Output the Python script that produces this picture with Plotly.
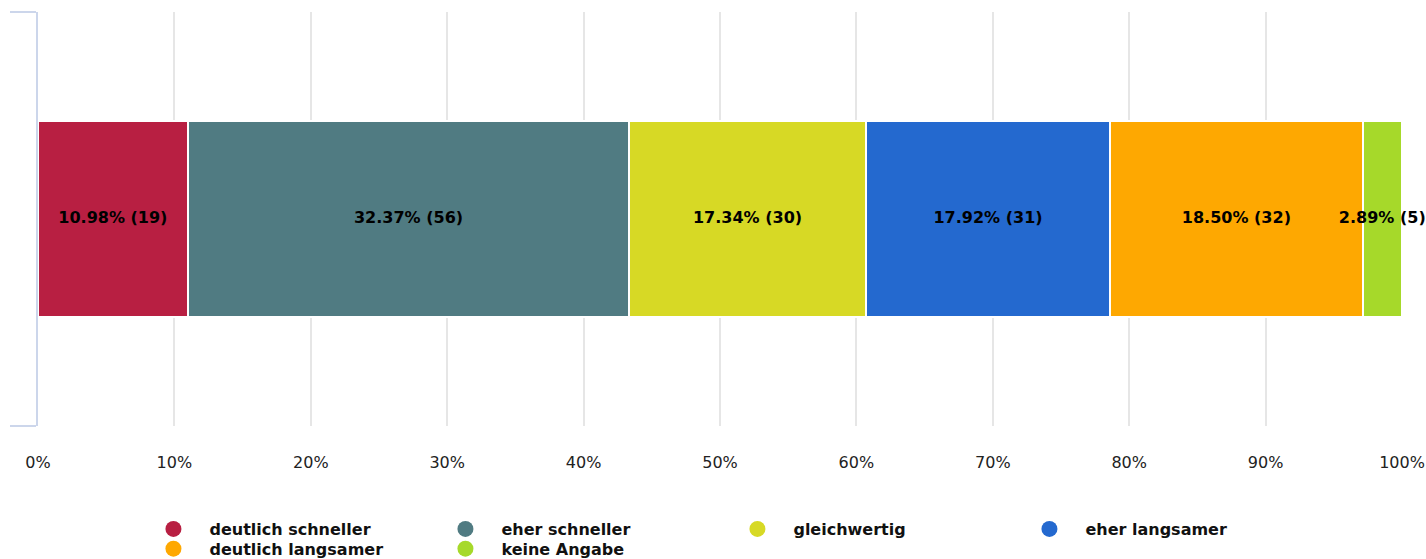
import plotly.graph_objects as go

# Daten
kategorien = ["deutlich schneller", "eher schneller", "gleichwertig",
              "eher langsamer", "deutlich langsamer", "keine Angabe"]
prozente = [10.98, 32.37, 17.34, 17.92, 18.50, 2.89]
anzahl = [19, 56, 30, 31, 32, 5]
farben = ["#B81F42", "#507B82", "#D7D925", "#2469CF", "#FEA801", "#A6D92A"]
x_ticks = [0, 10, 20, 30, 40, 50, 60, 70, 80, 90, 100]
x_ticktext = [f"{v}%" for v in x_ticks]

FONT = "DejaVu Sans"

fig = go.Figure()

# gestapelte Balken
for name, wert, farbe in zip(kategorien, prozente, farben):
    fig.add_trace(go.Bar(
        x=[wert], y=[0], orientation="h", name=name,
        width=0.4734,
        marker=dict(color=farbe, line=dict(color="white", width=2)),
        showlegend=False, hoverinfo="skip",
    ))

# Beschriftungen in der Mitte jedes Segments
mitten = []
summe = 0
for wert in prozente:
    mitten.append(summe + wert / 2)
    summe += wert
texte = [f"{p:.2f}% ({n})" for p, n in zip(prozente, anzahl)]
fig.add_trace(go.Scatter(
    x=mitten, y=[0] * len(mitten), mode="text", text=texte,
    textposition="middle center", cliponaxis=False,
    textfont=dict(family=FONT, size=16, color="black", weight="bold"),
    showlegend=False, hoverinfo="skip",
))

# Legende mit Kreisen: erste Zeile 4 Eintraege, zweite Zeile der Rest
for i, (name, farbe) in enumerate(zip(kategorien, farben)):
    fig.add_trace(go.Scatter(
        x=[None], y=[None], mode="markers", name=name,
        marker=dict(symbol="circle", size=17, color=farbe),
        legend="legend" if i < 4 else "legend2",
    ))

legend_stil = dict(
    orientation="h", traceorder="normal",
    x=0.0729, xanchor="left", yanchor="middle",
    entrywidth=215, entrywidthmode="pixels", itemwidth=62,
    font=dict(family=FONT, size=16, color="#111111", weight="bold"),
    bgcolor="rgba(0,0,0,0)",
)

fig.update_layout(
    barmode="stack",
    width=1426, height=559,
    margin=dict(l=38, r=24, t=12, b=133, autoexpand=False),
    plot_bgcolor="white", paper_bgcolor="white",
    font=dict(family=FONT, size=16, color="#222222"),
    legend=dict(legend_stil, y=-0.2488),
    legend2=dict(legend_stil, y=-0.2966),
    xaxis=dict(
        range=[0, 100], tickvals=x_ticks, ticktext=x_ticktext,
        showgrid=True, gridcolor="#e6e6e6", gridwidth=2,
        zeroline=False, showline=False,
        ticks="outside", ticklen=22, tickcolor="rgba(0,0,0,0)",
        tickfont=dict(family=FONT, size=16, color="#222222"),
        fixedrange=True,
    ),
    yaxis=dict(
        range=[-0.5, 0.5], tickvals=[-0.5, 0.5], showticklabels=False,
        showgrid=False, zeroline=False,
        showline=True, linecolor="#ccd6eb", linewidth=2,
        ticks="outside", ticklen=26, tickcolor="#ccd6eb", tickwidth=2,
        fixedrange=True,
    ),
)

# Seitenrand entfernen, damit die Grafik genau ins Fenster passt
fig.write_html(
    "out.html",
    config={"displayModeBar": False},
    post_script="document.body.style.margin='0';",
)
